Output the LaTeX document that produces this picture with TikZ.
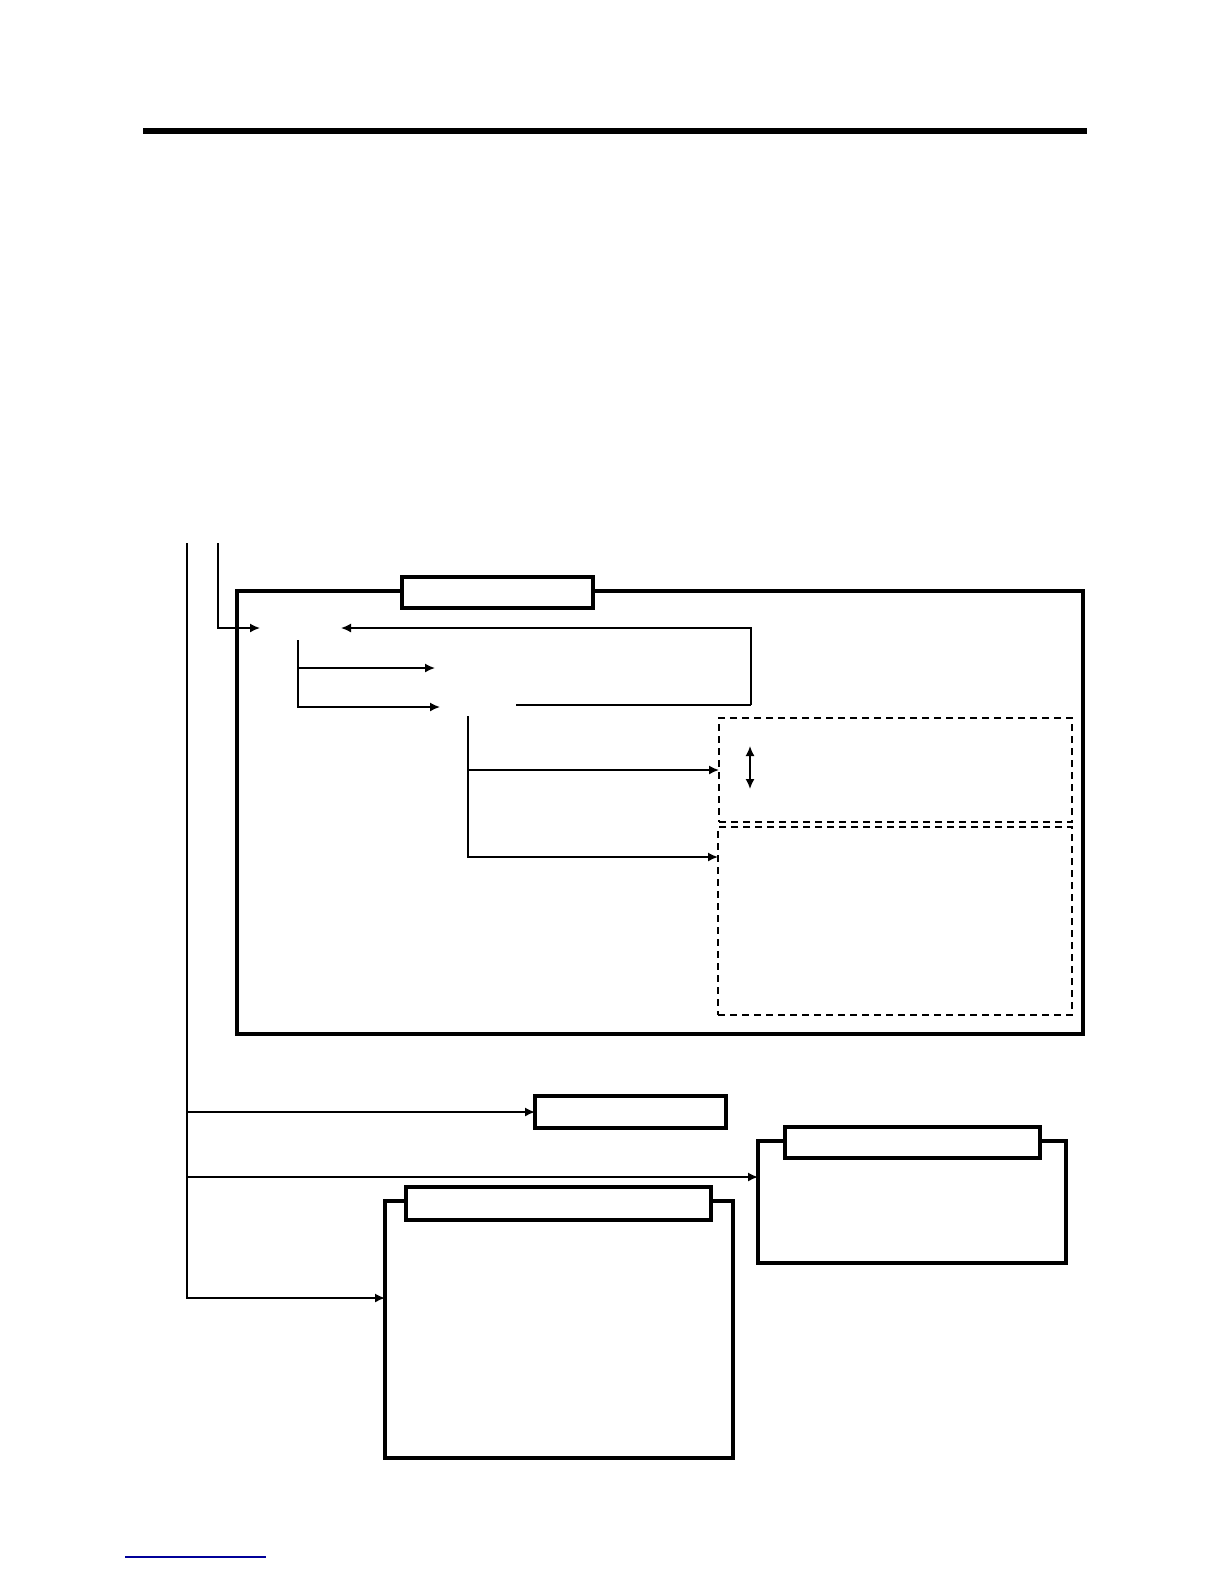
\documentclass[tikz,border=0pt]{standalone}
\usepackage{tikz}
\usetikzlibrary{arrows.meta,calc}
\tikzset{
  frame/.style={draw, line width=1.6pt, inner sep=0pt, outer sep=0pt},
  titlebox/.style={frame, fill=white},
  dashbox/.style={draw, line width=1.1pt, dash pattern=on 3.5pt off 2.5pt, inner sep=0pt, outer sep=0pt},
  wire/.style={line width=0.8pt},
  arr/.style={wire, -{Latex[length=5pt,width=4.5pt]}},
  arrboth/.style={wire, {Latex[length=5pt,width=4.5pt]}-{Latex[length=5pt,width=4.5pt]}}
}
\begin{document}
\begin{tikzpicture}[x=0.5pt, y=-0.5pt]
			%%%%% START %%%%%
			\useasboundingbox (0,0) rectangle (1224,1584);
			
			\draw[line width=3pt] (143,131) -- (1087,131);
			
			% boxes
			\node[frame, minimum width=423pt, minimum height=221.5pt] (outer) at (660,812.5) {};
			\node[titlebox, minimum width=95.5pt, minimum height=15.5pt] (toptitle) at (497.5,592.5) {};
			\node[dashbox, minimum width=176.5pt, minimum height=52pt] (dashA) at (895.5,770) {};
			\node[dashbox, minimum width=177pt, minimum height=94pt] (dashB) at (895,921) {};
			
			\node[frame, minimum width=95.5pt, minimum height=16pt] (mid) at (630.5,1112) {};
			\node[frame, minimum width=154pt, minimum height=61pt] (rbox) at (912,1202) {};
			\node[titlebox, minimum width=127.5pt, minimum height=15.5pt] (rtitle) at (912.5,1142.5) {};
			\node[frame, minimum width=174pt, minimum height=128.5pt] (lbox) at (559,1329.5) {};
			\node[titlebox, minimum width=152.5pt, minimum height=16.5pt] (ltitle) at (558.5,1203.5) {};
			
			% free ends
			\coordinate (trunktop) at (187,543);
			\coordinate (trunkbot) at (187,1298);
			\coordinate (feedtop) at (218,543);
			\coordinate (inA) at (260,628);
			\coordinate (inB) at (341,628);
			\coordinate (retL) at (516,705);
			\coordinate (retR) at (751,705);
			\coordinate (b1top) at (298,640);
			\coordinate (outA) at (435,668);
			\coordinate (outB) at (440,707);
			\coordinate (b2top) at (468,716);
			\coordinate (b2bot) at (468,857);
			\coordinate (rin) at (758,1177);
			\coordinate (updnT) at (750,746);
			\coordinate (updnB) at (750,789);
			
			% connectors
			\draw[arr] (feedtop) |- (inA);
			\draw[line width=1.2pt] (retL) -- (retR);
			\draw[arr] (retR) |- (inB);
			\draw[arr] (b1top) |- (outB);
			\draw[arr] (b1top |- outA) -- (outA);
			\draw[arr] (b2top) |- (b2bot -| dashB.west);
			\draw[arr] (b2top |- dashA.west) -- (dashA.west);
			\draw[arrboth] (updnT) -- (updnB);
			
			\draw[arr] (trunktop) |- (trunkbot -| lbox.west);
			\draw[arr] (trunktop |- mid.west) -- (mid.west);
			\draw[arr] (trunktop |- rin) -- (rin);
			
			\draw[line width=0.6pt, color=blue!60!black] (125,1557) -- (266,1557);
			
			%%%%% END %%%%%
\end{tikzpicture}
\end{document}
